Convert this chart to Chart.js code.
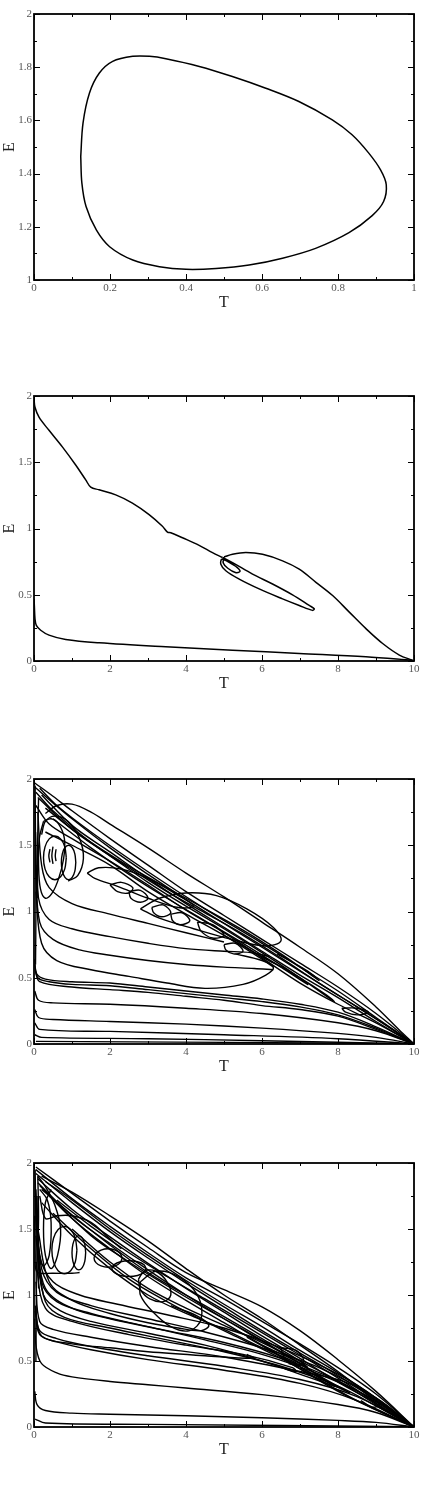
<!DOCTYPE html>
<html>
<head>
<meta charset="utf-8">
<script src="https://cdn.jsdelivr.net/npm/chart.js@4.4.0/dist/chart.umd.min.js"></script>
<style>
  body { margin: 0; background: #fff; width: 427px; height: 1493px; position: relative; overflow: hidden; }
  canvas { position: absolute; left: 0; }
</style>
</head>
<body>
<canvas id="c1" width="427" height="320" style="top:0px"></canvas>
<canvas id="c2" width="427" height="319" style="top:382px"></canvas>
<canvas id="c3" width="427" height="319" style="top:765px"></canvas>
<canvas id="c4" width="427" height="318" style="top:1149px"></canvas>
<script>
// ---- tick values / labels ----
const tTicksSmall = [0, 0.2, 0.4, 0.6, 0.8, 1];
const tLabelsSmall = ['0', '0.2', '0.4', '0.6', '0.8', '1'];
const tMinorSmall = [0.1, 0.3, 0.5, 0.7, 0.9];
const eTicksSmall = [1, 1.2, 1.4, 1.6, 1.8, 2];
const eLabelsSmall = ['1', '1.2', '1.4', '1.6', '1.8', '2'];
const eMinorSmall = [1.1, 1.3, 1.5, 1.7, 1.9];

const tTicks = [0, 2, 4, 6, 8, 10];
const tLabels = ['0', '2', '4', '6', '8', '10'];
const tMinor = [1, 3, 5, 7, 9];
const eTicks = [0, 0.5, 1, 1.5, 2];
const eLabels = ['0', '0.5', '1', '1.5', '2'];
const eMinor = [0.25, 0.75, 1.25, 1.75];

// ---- panel 1: limit cycle ----
const p1Cycle = [[0.123,1.464],[0.129,1.59],[0.146,1.703],[0.172,1.778],[0.207,1.822],[0.26,1.841],[0.304,1.841],[0.347,1.832],[0.435,1.803],[0.522,1.765],[0.61,1.721],[0.697,1.671],[0.785,1.602],[0.837,1.546],[0.881,1.477],[0.912,1.414],[0.927,1.358],[0.92,1.295],[0.89,1.242],[0.829,1.178],[0.741,1.119],[0.654,1.082],[0.566,1.056],[0.479,1.043],[0.4,1.04],[0.33,1.05],[0.26,1.075],[0.199,1.125],[0.164,1.188],[0.137,1.276],[0.126,1.364],[0.123,1.464]];

// ---- panel 2: single trajectory ----
const p2Descent = [[0,1.978],[0.026,1.915],[0.132,1.84],[0.395,1.741],[0.746,1.616],[1.097,1.479],[1.361,1.367],[1.493,1.312],[1.712,1.292],[2.151,1.254],[2.59,1.192],[3.029,1.105],[3.38,1.017],[3.512,0.973],[3.6,0.968],[3.907,0.93],[4.346,0.873],[4.697,0.818],[4.96,0.781]];
const p2Spindle = [[4.96,0.781],[5.224,0.743],[5.751,0.656],[6.277,0.581],[6.804,0.499],[7.243,0.419],[7.375,0.394],[7.331,0.382],[6.98,0.419],[6.541,0.469],[5.926,0.544],[5.4,0.618],[5.048,0.681],[4.917,0.731],[4.943,0.768],[5.1,0.75],[5.35,0.705],[5.42,0.675],[5.3,0.668],[5.1,0.7],[4.98,0.74],[5.0,0.785]];
const p2Arc = [[5.0,0.785],[5.224,0.805],[5.575,0.818],[6.014,0.805],[6.541,0.756],[6.98,0.693],[7.419,0.594],[7.858,0.494],[8.297,0.369],[8.736,0.244],[9.175,0.132],[9.614,0.045],[9.965,0.005]];
const p2Floor = [[9.965,0.005],[8.736,0.032],[6.98,0.057],[5.224,0.082],[3.468,0.107],[1.712,0.137],[0.834,0.162],[0.395,0.195],[0.176,0.232],[0.061,0.269],[0.026,0.319],[0.009,0.419],[0,0.469]];

// ---- panel 3 ----
const p3Env = [[0.3,1.74],[0.6,1.8],[1,1.81],[1.5,1.75],[2,1.66],[3,1.48],[4,1.29],[5,1.11],[6,0.92],[7,0.73],[8,0.53],[9,0.28],[9.6,0.11],[10,0]];
const p3B1 = [[0.02,1.97],[0.5,1.87],[1,1.76],[2,1.55],[3,1.35],[4,1.15],[5,0.97],[6,0.79],[7,0.61],[8,0.43],[9,0.23],[10,0]];
const p3B2 = [[0.02,1.94],[0.5,1.82],[1,1.7],[2,1.48],[3,1.28],[4,1.09],[5,0.91],[6,0.73],[7,0.55],[8,0.37],[9,0.19],[10,0]];
const p3B3 = [[0.05,1.9],[0.5,1.76],[1.5,1.52],[2.5,1.33],[3.5,1.15],[4.5,0.99],[5.5,0.83],[6.5,0.65],[7.5,0.46],[8.5,0.28],[9.5,0.1],[10,0]];
const p3B4 = [[0.1,1.86],[1,1.62],[2,1.42],[3,1.22],[4,1.04],[5,0.87],[6,0.69],[7,0.5],[7.6,0.38],[7.9,0.32],[7.7,0.37],[7,0.5],[6,0.66],[5,0.82]];
const p3B5 = [[0.3,1.78],[1.2,1.58],[2.5,1.34],[4,1.1],[5.5,0.86],[6.5,0.68],[7.3,0.52],[7.5,0.48],[7.2,0.55],[6.4,0.68]];
const p3B6 = [[0.05,1.8],[0.4,1.66],[1,1.55],[2,1.38],[3,1.2],[4,1.01],[5,0.84],[6,0.65],[7,0.46],[8,0.3],[9,0.16],[10,0]];
const p3B7 = [[0.2,1.88],[1,1.65],[2,1.45],[3,1.25],[4,1.06],[5,0.88],[6,0.7],[7,0.52],[8,0.35],[9,0.17],[10,0]];
const p3B8 = [[0.5,1.7],[1.5,1.48],[2.5,1.28],[3.5,1.1],[4.5,0.93],[5.5,0.76],[6.5,0.58],[7.2,0.45],[7.0,0.5],[6.0,0.66]];
const p3B9 = [[0.15,1.93],[0.6,1.8],[1.5,1.6],[3,1.3],[4.5,1.02],[6,0.76],[7,0.58],[8,0.4],[9,0.2],[10,0]];
const p3X1 = [[0.3,1.6],[1,1.5],[2,1.35],[3,1.15],[4,0.98],[5,0.82],[6,0.64],[6.3,0.58]];
const p3Cap = [[0.2,1.58],[0.3,1.68],[0.55,1.72],[0.9,1.68],[1.2,1.55],[1.3,1.4],[1.15,1.27],[0.9,1.23]];
const p3V1 = [[0.03,1.95],[0.04,1.5],[0.05,1.0],[0.04,0.6]];
const p3V2 = [[0.12,1.85],[0.1,1.6],[0.09,1.3],[0.1,1.1]];
const p3Ring1 = [[0.85,1.405],[0.81,1.488],[0.7,1.548],[0.55,1.57],[0.4,1.548],[0.29,1.488],[0.25,1.405],[0.29,1.322],[0.4,1.262],[0.55,1.24],[0.7,1.262],[0.81,1.322],[0.85,1.405]];
const p3Ring2 = [[1.1,1.37],[1.075,1.435],[1.005,1.483],[0.91,1.5],[0.815,1.483],[0.745,1.435],[0.72,1.37],[0.745,1.305],[0.815,1.257],[0.91,1.24],[1.005,1.257],[1.075,1.305],[1.1,1.37]];
const p3Tall = [[0.25,1.68],[0.14,1.55],[0.12,1.35],[0.17,1.17],[0.3,1.1],[0.48,1.14],[0.65,1.25],[0.78,1.4],[0.8,1.55],[0.65,1.66],[0.45,1.7],[0.25,1.68]];
const p3Hook1 = [[0.42,1.47],[0.39,1.42],[0.42,1.37]];
const p3Hook2 = [[0.5,1.49],[0.47,1.42],[0.5,1.36]];
const p3Hook3 = [[0.58,1.47],[0.56,1.42],[0.58,1.38]];
const p3Oval = [[1.4,1.29],[1.7,1.33],[2.3,1.32],[3,1.25],[3.8,1.12],[4.2,1.04],[3.8,1.03],[3,1.1],[2.2,1.19],[1.6,1.25],[1.4,1.29]];
const p3BigOval = [[2.8,1.02],[3.3,1.1],[4,1.14],[4.8,1.12],[5.6,1.02],[6.3,0.88],[6.5,0.78],[6.1,0.74],[5.2,0.79],[4.2,0.87],[3.3,0.95],[2.8,1.02]];
const p3Eddy1 = [[2.0,1.2],[2.3,1.22],[2.6,1.18],[2.5,1.14],[2.2,1.15],[2.0,1.2]];
const p3Eddy2 = [[2.5,1.15],[2.8,1.16],[3.0,1.1],[2.8,1.07],[2.55,1.1],[2.5,1.15]];
const p3Eddy3 = [[3.1,1.03],[3.4,1.05],[3.6,0.99],[3.35,0.96],[3.15,0.99],[3.1,1.03]];
const p3Eddy4 = [[3.6,0.98],[3.9,0.99],[4.1,0.93],[3.85,0.9],[3.65,0.93],[3.6,0.98]];
const p3Eddy5 = [[4.3,0.92],[4.7,0.9],[5.0,0.82],[4.7,0.8],[4.4,0.85],[4.3,0.92]];
const p3Eddy6 = [[5.0,0.75],[5.3,0.76],[5.5,0.7],[5.25,0.68],[5.05,0.71],[5.0,0.75]];
const p3Eddy7 = [[8.1,0.27],[8.5,0.27],[8.8,0.24],[8.5,0.22],[8.2,0.24],[8.1,0.27]];
const p3M1 = [[0.04,1.6],[0.12,1.1],[0.4,0.94],[1,0.87],[2,0.81],[3,0.76],[4,0.72],[5,0.7],[5.7,0.69],[6.2,0.66]];
const p3M2 = [[0.05,1.35],[0.15,0.92],[0.5,0.79],[1.2,0.71],[2,0.67],[3,0.63],[4,0.6],[5,0.58],[5.8,0.57],[6.3,0.56]];
const p3M3 = [[0.05,1.15],[0.2,0.76],[0.6,0.63],[1.5,0.56],[2.5,0.51],[3.5,0.46],[4.5,0.42],[5.5,0.45],[6.1,0.52],[6.3,0.58],[6,0.63],[5.3,0.68]];
const p3M4 = [[0.1,1.75],[0.2,1.35],[0.4,1.18],[1,1.06],[2,0.98],[3,0.91],[4,0.84],[5,0.77]];
const p3F1 = [[0.02,0.64],[0.07,0.53],[0.3,0.49],[1,0.47],[2,0.46],[3,0.43],[4,0.4],[5,0.37],[6,0.34],[7,0.3],[8,0.24],[9,0.13],[10,0]];
const p3F2 = [[0.02,0.6],[0.1,0.5],[0.4,0.47],[1,0.45],[2,0.44],[3,0.41],[4,0.38],[5,0.35],[6,0.32],[7,0.28],[8,0.22],[9,0.12],[10,0]];
const p3F3 = [[0.03,0.56],[0.15,0.47],[1,0.43],[2,0.41],[3,0.39],[4,0.36],[5,0.33],[6,0.29],[7,0.26],[8,0.21],[9,0.11],[10,0]];
const p3F4 = [[0.02,0.4],[0.12,0.33],[0.5,0.31],[2,0.3],[4,0.27],[6,0.23],[8,0.16],[9,0.1],[10,0]];
const p3F5 = [[0.02,0.26],[0.12,0.2],[0.5,0.185],[2,0.17],[4,0.15],[6,0.12],[8,0.08],[9,0.05],[10,0]];
const p3F6 = [[0.02,0.16],[0.15,0.11],[2,0.095],[5,0.07],[8,0.04],[10,0]];
const p3F7 = [[0.02,0.07],[0.2,0.05],[3,0.04],[6,0.025],[10,0]];
const p3F8 = [[0.05,0.02],[5,0.012],[10,0.003]];

// ---- panel 4 ----
const p4Env = [[0.05,1.97],[1,1.77],[2,1.56],[3,1.36],[4,1.17],[5,1.04],[6,0.91],[7,0.73],[8,0.51],[9,0.27],[10,0]];
const p4B1 = [[0.05,1.95],[1,1.73],[2,1.52],[3,1.32],[4,1.13],[5,0.97],[6,0.8],[7,0.63],[8,0.45],[9,0.25],[10,0]];
const p4B2 = [[0.05,1.92],[1,1.7],[2,1.48],[3,1.28],[4,1.09],[5,0.91],[6,0.73],[7,0.56],[8,0.39],[9,0.21],[10,0]];
const p4B3 = [[0.1,1.88],[1,1.65],[2,1.44],[3,1.24],[4,1.05],[5,0.87],[6,0.69],[7,0.52],[8,0.34],[9,0.18],[10,0]];
const p4B4 = [[0.1,1.85],[1,1.6],[2,1.39],[3,1.19],[4,1.0],[5,0.82],[6,0.65],[7,0.48],[7.9,0.31],[7.6,0.36],[6.6,0.52],[5.6,0.68]];
const p4B5 = [[0.2,1.8],[1.5,1.49],[3,1.17],[4.5,0.92],[6,0.67],[7,0.5],[7.2,0.45],[6.9,0.5],[6,0.62]];
const p4B6 = [[0.2,1.9],[1,1.78],[2,1.6],[3,1.41],[4,1.2],[5,1.0],[6,0.82],[7,0.62],[8,0.42],[8.8,0.24],[9.1,0.17],[8.9,0.15],[8.6,0.2]];
const p4B7 = [[0.3,1.86],[1,1.72],[2,1.5],[3,1.3],[4,1.11],[5,0.93],[6,0.76],[7,0.58],[8,0.41],[9,0.22],[10,0]];
const p4B8 = [[0.15,1.83],[1,1.58],[2,1.35],[3,1.14],[4,0.96],[5,0.79],[6,0.62],[7,0.44],[8,0.27],[9,0.13],[10,0]];
const p4B9 = [[0.4,1.75],[1.5,1.45],[2.5,1.25],[3.5,1.07],[4.5,0.9],[5.5,0.74],[6.5,0.57],[7.5,0.39],[8.3,0.26],[8.0,0.3],[7.0,0.45]];
const p4B10 = [[0.6,1.72],[1.5,1.52],[2.5,1.32],[3.5,1.14],[4.5,0.97],[5.5,0.8],[6.5,0.63],[7.5,0.46],[8.5,0.28],[9.3,0.12],[10,0]];
const p4X1 = [[0.2,1.7],[1,1.45],[2,1.2],[3,1.0],[4,0.86],[5,0.74],[6,0.6],[6.8,0.5],[7,0.46],[6.7,0.48]];
const p4X2 = [[0.5,1.62],[1.5,1.35],[2.5,1.12],[3.5,0.95],[4.5,0.8],[5.5,0.66],[6.5,0.52],[7.5,0.36],[8.5,0.2],[10,0]];
const p4X3 = [[1,1.5],[2,1.25],[3,1.05],[4,0.9],[5,0.77],[6,0.64],[7,0.5],[8,0.35],[9,0.17],[10,0]];
const p4V1 = [[0.03,1.95],[0.05,1.5],[0.06,1.0],[0.05,0.5]];
const p4V2 = [[0.1,1.9],[0.12,1.6],[0.1,1.3],[0.12,1.05]];
const p4Ring1 = [[1.13,1.34],[1.086,1.43],[0.965,1.496],[0.8,1.52],[0.635,1.496],[0.514,1.43],[0.47,1.34],[0.514,1.25],[0.635,1.184],[0.8,1.16],[0.965,1.184],[1.086,1.25],[1.13,1.34]];
const p4Ring2 = [[1.36,1.32],[1.336,1.385],[1.27,1.433],[1.18,1.45],[1.09,1.433],[1.024,1.385],[1.0,1.32],[1.024,1.255],[1.09,1.207],[1.18,1.19],[1.27,1.207],[1.336,1.255],[1.36,1.32]];
const p4Ring3 = [[2.32,1.28],[2.27,1.315],[2.135,1.34],[1.95,1.35],[1.765,1.34],[1.63,1.315],[1.58,1.28],[1.63,1.245],[1.765,1.22],[1.95,1.21],[2.135,1.22],[2.27,1.245],[2.32,1.28]];
const p4Ring4 = [[2.95,1.2],[2.89,1.23],[2.725,1.252],[2.5,1.26],[2.275,1.252],[2.11,1.23],[2.05,1.2],[2.11,1.17],[2.275,1.148],[2.5,1.14],[2.725,1.148],[2.89,1.17],[2.95,1.2]];
const p4Ring5 = [[2.75,1.12],[2.9,1.18],[3.2,1.18],[3.5,1.1],[3.6,1.0],[3.4,0.95],[3.05,0.97],[2.8,1.04],[2.75,1.12]];
const p4BigLoop = [[2.8,1.1],[3.2,1.18],[3.8,1.14],[4.3,1.0],[4.4,0.82],[4.1,0.73],[3.6,0.76],[3.1,0.88],[2.8,1.0],[2.8,1.1]];
const p4Curl = [[6.5,0.6],[6.9,0.58],[7.1,0.5],[6.9,0.47],[6.6,0.52],[6.5,0.6]];
const p4Arc1 = [[0.1,1.9],[0.3,1.82],[0.55,1.68],[0.7,1.5],[0.62,1.3],[0.45,1.2],[0.3,1.3],[0.25,1.5],[0.3,1.7],[0.45,1.8]];
const p4Arc2 = [[0.08,1.75],[0.1,1.5],[0.15,1.3],[0.25,1.22],[0.4,1.3],[0.45,1.55],[0.35,1.72],[0.15,1.8]];
const p4Arc3 = [[0.15,1.75],[0.3,1.58],[0.6,1.6],[1,1.6],[1.5,1.55],[1.9,1.45],[2.3,1.35]];
const p4Flat = [[0.02,1.6],[0.03,1.3],[0.08,1.175],[0.5,1.165],[1.0,1.165],[1.2,1.17]];
const p4M1 = [[0.05,1.7],[0.2,1.2],[0.6,1.02],[1.5,0.92],[3,0.82],[4.5,0.72],[6,0.6],[7.5,0.45],[9,0.22],[10,0]];
const p4M2 = [[0.05,1.6],[0.2,1.1],[0.6,0.95],[1.5,0.86],[3,0.76],[4.5,0.66],[6,0.55],[7.5,0.4],[9,0.2],[10,0]];
const p4M3 = [[0.05,1.45],[0.25,1.0],[0.7,0.88],[1.5,0.8],[3,0.71],[4.5,0.62],[6,0.5],[7.2,0.38],[8,0.3],[7.6,0.34]];
const p4M4 = [[0.1,1.35],[0.3,0.95],[0.8,0.83],[2,0.75],[3.5,0.66],[5,0.57],[6.5,0.46],[8,0.31],[9,0.16],[10,0]];
const p4M5 = [[0.1,1.5],[0.4,1.1],[1,0.96],[2,0.86],[3,0.79],[3.8,0.75],[4.4,0.73],[4.6,0.77],[4.3,0.84],[3.6,0.92]];
const p4M6 = [[0.05,1.25],[0.3,0.9],[1,0.8],[2.5,0.7],[4,0.62],[5.5,0.55],[6.8,0.45],[6.9,0.42],[6.6,0.44]];
const p4M7 = [[0.05,1.8],[0.15,1.3],[0.5,1.1],[1.2,1.0],[2.2,0.93],[3.5,0.85],[5,0.75],[6.5,0.6],[8,0.4],[9,0.22],[10,0]];
const p4M8 = [[0.08,1.4],[0.3,1.05],[1,0.9],[2,0.82],[3.5,0.73],[5,0.64],[6.5,0.52],[8,0.35],[9,0.19],[10,0]];
const p4L1 = [[0.03,0.06],[0.3,0.03],[3,0.02],[10,0.003]];
const p4L2 = [[0.02,0.27],[0.08,0.17],[0.3,0.125],[1,0.105],[2,0.097],[4,0.085],[6,0.07],[8,0.05],[9,0.035],[10,0]];
const p4L3 = [[0.02,0.82],[0.06,0.6],[0.2,0.48],[0.6,0.41],[1,0.38],[2,0.345],[3,0.32],[4,0.295],[6,0.245],[8,0.17],[9,0.11],[10,0]];
const p4L4 = [[0.03,0.92],[0.15,0.73],[0.6,0.67],[1.5,0.61],[3,0.54],[5,0.46],[7,0.36],[8.5,0.23],[10,0]];
const p4L5 = [[0.03,0.88],[0.15,0.7],[0.6,0.645],[1.5,0.585],[3,0.51],[5,0.43],[7,0.33],[8.5,0.2],[10,0]];
const p4L6 = [[0.05,0.86],[0.2,0.69],[1,0.63],[2,0.6],[3,0.57],[4.5,0.54],[5.8,0.52],[5.6,0.55]];
const p4L7 = [[0.05,1.1],[0.15,0.8],[0.5,0.74],[1.5,0.68],[3,0.61],[5,0.53],[7,0.42],[8.2,0.34],[9,0.2],[10,0]];

const serif = "'Liberation Serif', 'DejaVu Serif', serif";

// box + inward tick marks on all four sides
const frameTicks = {
  id: 'frameTicks',
  afterDatasetsDraw(chart, args, opts) {
    const { ctx, chartArea: a, scales: { x, y } } = chart;
    ctx.save();
    ctx.strokeStyle = '#000';
    ctx.lineWidth = 1;
    ctx.beginPath();
    const markX = (vals, len) => vals.forEach(v => {
      const p = Math.round(x.getPixelForValue(v)) + 0.5;
      ctx.moveTo(p, a.bottom); ctx.lineTo(p, a.bottom - len);
      ctx.moveTo(p, a.top); ctx.lineTo(p, a.top + len);
    });
    const markY = (vals, len) => vals.forEach(v => {
      const p = Math.round(y.getPixelForValue(v)) + 0.5;
      ctx.moveTo(a.left, p); ctx.lineTo(a.left + len, p);
      ctx.moveTo(a.right, p); ctx.lineTo(a.right - len, p);
    });
    markX(opts.xMajor, 6); markX(opts.xMinor, 3);
    markY(opts.yMajor, 6); markY(opts.yMinor, 3);
    ctx.stroke();
    ctx.lineWidth = 1.8;
    ctx.strokeRect(a.left, a.top, a.right - a.left, a.bottom - a.top);
    ctx.restore();
  }
};

function makeChart(id, curves, width, xr, yr) {
  new Chart(document.getElementById(id), {
    type: 'scatter',
    data: {
      datasets: curves.map(c => ({
        data: c.map(p => ({ x: p[0], y: p[1] })),
        showLine: true,
        borderColor: '#000',
        borderWidth: width,
        pointRadius: 0,
        tension: 0.35,
        fill: false
      }))
    },
    options: {
      responsive: false,
      animation: false,
      layout: { padding: { top: 14, right: 13, left: 0, bottom: 0 } },
      plugins: {
        legend: { display: false },
        tooltip: { enabled: false },
        frameTicks: { xMajor: xr.ticks, xMinor: xr.minor, yMajor: yr.ticks, yMinor: yr.minor }
      },
      scales: {
        x: {
          type: 'linear', min: xr.min, max: xr.max,
          afterFit: s => { s.height = 40; },
          afterBuildTicks: s => { s.ticks = xr.ticks.map(v => ({ value: v })); },
          grid: { display: false, drawTicks: false },
          border: { display: false },
          ticks: {
            autoSkip: false, maxRotation: 0, padding: 2, color: '#555',
            font: { family: serif, size: 11 },
            callback: (v, i) => xr.labels[i]
          },
          title: { display: true, text: 'T', color: '#222', font: { family: serif, size: 16 }, padding: { top: 0, bottom: 8 } }
        },
        y: {
          type: 'linear', min: yr.min, max: yr.max,
          afterFit: s => { s.width = 34; },
          afterBuildTicks: s => { s.ticks = yr.ticks.map(v => ({ value: v })); },
          grid: { display: false, drawTicks: false },
          border: { display: false },
          ticks: {
            autoSkip: false, padding: 2, color: '#555',
            font: { family: serif, size: 11 },
            callback: (v, i) => yr.labels[i]
          },
          title: { display: true, text: 'E', color: '#222', font: { family: serif, size: 16 }, padding: { top: 0, bottom: 0 } }
        }
      }
    },
    plugins: [frameTicks]
  });
}

const axisTSmall = { min: 0, max: 1, ticks: tTicksSmall, labels: tLabelsSmall, minor: tMinorSmall };
const axisESmall = { min: 1, max: 2, ticks: eTicksSmall, labels: eLabelsSmall, minor: eMinorSmall };
const axisT = { min: 0, max: 10, ticks: tTicks, labels: tLabels, minor: tMinor };
const axisE = { min: 0, max: 2, ticks: eTicks, labels: eLabels, minor: eMinor };

makeChart('c1', [p1Cycle], 1.5, axisTSmall, axisESmall);
makeChart('c2', [p2Descent, p2Spindle, p2Arc, p2Floor], 1.5, axisT, axisE);
makeChart('c3', [p3Env, p3B1, p3B2, p3B3, p3B4, p3B5, p3B6, p3B7, p3B8, p3B9, p3X1, p3Cap, p3V1, p3V2,
  p3Ring1, p3Ring2, p3Tall, p3Hook1, p3Hook2, p3Hook3, p3Oval, p3BigOval,
  p3Eddy1, p3Eddy2, p3Eddy3, p3Eddy4, p3Eddy5, p3Eddy6, p3Eddy7,
  p3M1, p3M2, p3M3, p3M4, p3F1, p3F2, p3F3, p3F4, p3F5, p3F6, p3F7, p3F8], 1.4, axisT, axisE);
makeChart('c4', [p4Env, p4B1, p4B2, p4B3, p4B4, p4B5, p4B6, p4B7, p4B8, p4B9, p4B10, p4X1, p4X2, p4X3,
  p4V1, p4V2, p4Ring1, p4Ring2, p4Ring3, p4Ring4, p4Ring5, p4BigLoop, p4Curl,
  p4Arc1, p4Arc2, p4Arc3, p4Flat, p4M1, p4M2, p4M3, p4M4, p4M5, p4M6, p4M7, p4M8,
  p4L1, p4L2, p4L3, p4L4, p4L5, p4L6, p4L7], 1.4, axisT, axisE);
</script>
</body>
</html>
